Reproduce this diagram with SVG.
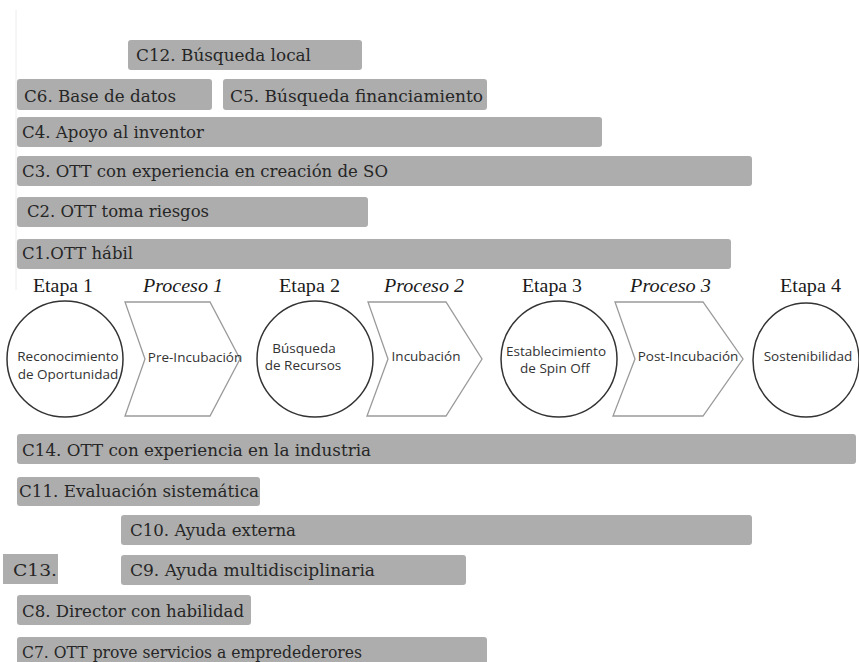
<svg xmlns="http://www.w3.org/2000/svg" width="859" height="662" viewBox="0 0 859 662">
<style>
.bar{fill:#adadad;}
.bt{font-family:"DejaVu Serif","Liberation Serif",serif;font-size:16px;fill:#262626;}
.lab{font-family:"Liberation Serif","DejaVu Serif",serif;font-size:18px;fill:#1a1a1a;}
.it{font-style:italic;}
.circ{fill:#fff;stroke:#333;stroke-width:1.5;}
.chev{fill:#fff;stroke:#9a9a9a;stroke-width:1.3;}
.st{font-family:"Open Sans","Noto Sans",sans-serif;font-size:13.5px;fill:#333;text-anchor:middle;}
</style>
<rect width="859" height="662" fill="#fff"/>
<line x1="16" y1="10" x2="16" y2="290" stroke="#ececec" stroke-width="1"/>
<g id="C12"><rect class="bar" x="128" y="40" width="234" height="30" rx="3"/><text class="bt" x="136" y="61" textLength="175" lengthAdjust="spacingAndGlyphs">C12. Búsqueda local</text></g>
<g id="C6"><rect class="bar" x="17" y="79" width="195" height="31" rx="3"/><text class="bt" x="24" y="102" textLength="152" lengthAdjust="spacingAndGlyphs">C6. Base de datos</text></g>
<g id="C5"><rect class="bar" x="223" y="79" width="264" height="31" rx="3"/><text class="bt" x="230" y="102" textLength="253" lengthAdjust="spacingAndGlyphs">C5. Búsqueda financiamiento</text></g>
<g id="C4"><rect class="bar" x="17" y="117" width="585" height="30" rx="3"/><text class="bt" x="22" y="138" textLength="182" lengthAdjust="spacingAndGlyphs">C4. Apoyo al inventor</text></g>
<g id="C3"><rect class="bar" x="17" y="156" width="735" height="30" rx="3"/><text class="bt" x="22" y="177" textLength="366" lengthAdjust="spacingAndGlyphs">C3. OTT con experiencia en creación de SO</text></g>
<g id="C2"><rect class="bar" x="17" y="197" width="351" height="30" rx="3"/><text class="bt" x="27" y="217" textLength="182" lengthAdjust="spacingAndGlyphs">C2. OTT toma riesgos</text></g>
<g id="C1"><rect class="bar" x="17" y="239" width="714" height="30" rx="3"/><text class="bt" x="22" y="259" textLength="111" lengthAdjust="spacingAndGlyphs">C1.OTT hábil</text></g>

<g id="labels">
<text class="lab" x="33" y="292" textLength="60" lengthAdjust="spacingAndGlyphs">Etapa 1</text>
<text class="lab it" x="143" y="292" textLength="80" lengthAdjust="spacingAndGlyphs">Proceso 1</text>
<text class="lab" x="279" y="292" textLength="61" lengthAdjust="spacingAndGlyphs">Etapa 2</text>
<text class="lab it" x="384" y="292" textLength="80" lengthAdjust="spacingAndGlyphs">Proceso 2</text>
<text class="lab" x="522" y="292" textLength="60" lengthAdjust="spacingAndGlyphs">Etapa 3</text>
<text class="lab it" x="630" y="292" textLength="81" lengthAdjust="spacingAndGlyphs">Proceso 3</text>
<text class="lab" x="780" y="292" textLength="61" lengthAdjust="spacingAndGlyphs">Etapa 4</text>
</g>

<g id="etapa1"><circle class="circ" cx="65" cy="359" r="58"/><text class="st" x="68" y="361">Reconocimiento</text><text class="st" x="68" y="379">de Oportunidad</text></g>
<g id="proceso1"><polygon class="chev" points="125,302 210,302 240,359 210,416 125,416 145,359"/><text class="st" x="195" y="362">Pre-Incubación</text></g>
<g id="etapa2"><circle class="circ" cx="315" cy="359" r="58"/><text class="st" x="304" y="353">Búsqueda</text><text class="st" x="303" y="370">de Recursos</text></g>
<g id="proceso2"><polygon class="chev" points="368,302 446,302 482,359 446,416 367,416 388,359"/><text class="st" x="426" y="361">Incubación</text></g>
<g id="etapa3"><circle class="circ" cx="559" cy="359" r="58"/><text class="st" x="556" y="356">Establecimiento</text><text class="st" x="555" y="373">de Spin Off</text></g>
<g id="proceso3"><polygon class="chev" points="615,302 703,302 743,359 703,416 613,416 635,359"/><text class="st" x="688" y="361">Post-Incubación</text></g>
<g id="etapa4"><ellipse class="circ" cx="806" cy="360" rx="53" ry="57"/><text class="st" x="808" y="361">Sostenibilidad</text></g>

<g id="connectors"></g>

<g id="C14"><rect class="bar" x="17" y="434" width="839" height="30" rx="3"/><text class="bt" x="22" y="456" textLength="349" lengthAdjust="spacingAndGlyphs">C14. OTT con experiencia en la industria</text></g>
<g id="C11"><rect class="bar" x="17" y="477" width="243" height="29" rx="3"/><text class="bt" x="19" y="497" textLength="240" lengthAdjust="spacingAndGlyphs">C11. Evaluación sistemática</text></g>
<g id="C10"><rect class="bar" x="121" y="515" width="631" height="30" rx="3"/><text class="bt" x="130" y="536" textLength="166" lengthAdjust="spacingAndGlyphs">C10. Ayuda externa</text></g>
<g id="C13"><rect class="bar" x="3" y="554" width="55" height="30"/><text class="bt" x="13" y="576" textLength="44" lengthAdjust="spacingAndGlyphs">C13.</text></g>
<g id="C9"><rect class="bar" x="121" y="555" width="345" height="30" rx="3"/><text class="bt" x="130" y="576" textLength="245" lengthAdjust="spacingAndGlyphs">C9. Ayuda multidisciplinaria</text></g>
<g id="C8"><rect class="bar" x="17" y="595" width="234" height="30" rx="3"/><text class="bt" x="22" y="617" textLength="222" lengthAdjust="spacingAndGlyphs">C8. Director con habilidad</text></g>
<g id="C7"><rect class="bar" x="17" y="637" width="470" height="30" rx="3"/><text class="bt" x="22" y="658" textLength="340" lengthAdjust="spacingAndGlyphs">C7. OTT prove servicios a empredederores</text></g>
</svg>
